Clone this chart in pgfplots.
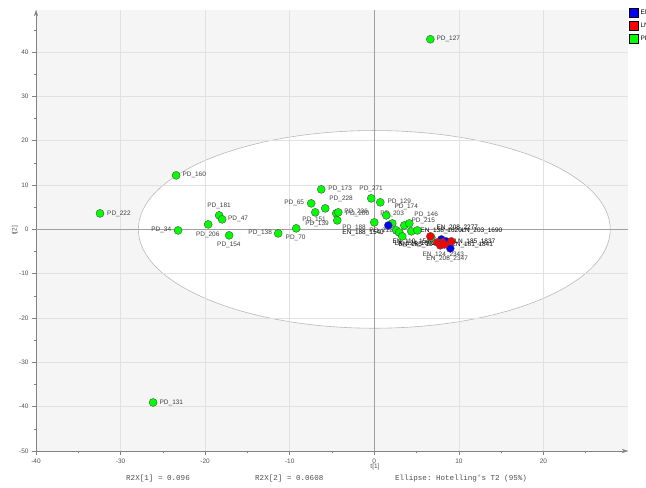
\documentclass[border=0pt]{standalone}
\usepackage{fontspec}
\setmainfont{Liberation Sans}
\setmonofont{Liberation Mono}
\usepackage{pgfplots}
\pgfplotsset{compat=1.18}
\usepackage{pgfplotstable}
\usetikzlibrary{arrows.meta}

\definecolor{ptgreen}{RGB}{0,255,0}
\definecolor{ptred}{RGB}{255,0,0}
\definecolor{ptblue}{RGB}{0,0,255}
\definecolor{plotbg}{RGB}{245,245,245}
\definecolor{gridgray}{RGB}{225,225,225}
\definecolor{axisgray}{RGB}{130,130,130}
\definecolor{zerogray}{RGB}{160,160,160}
\definecolor{ellgray}{RGB}{185,185,185}
\definecolor{tickgray}{RGB}{80,80,80}
\definecolor{labgray}{RGB}{60,60,60}

% scores t[1], t[2]
\pgfplotstableread{
x y
6.63 42.89
-23.43 12.19
-32.43 3.61
-23.20 -0.23
-18.34 3.16
-17.99 2.26
-19.64 1.13
-17.16 -1.35
-11.36 -0.90
-9.23 0.23
-26.15 -39.05
-6.27 9.03
-0.36 7.00
-7.46 5.87
-6.98 3.84
-5.80 4.74
-4.50 3.61
-4.26 3.84
-4.38 2.03
0.00 1.58
0.71 6.10
1.42 3.16
2.13 1.35
2.60 -0.23
2.96 -0.68
3.31 -1.58
3.55 0.90
4.14 1.35
4.38 -0.45
5.09 -0.23
6.75 -1.81
}\pdgroup

\pgfplotstableread{
x y
1.66 0.90
7.93 -2.26
8.99 -4.29
8.50 -2.70
}\engroup

\pgfplotstableread{
x y
6.63 -1.58
7.46 -2.93
8.05 -2.93
7.80 -3.60
9.11 -2.70
8.30 -3.40
}\lngroup

\tikzset{
  lbl/.style={font=\fontsize{6.5}{7}\selectfont, text=labgray, inner sep=0pt, anchor=west},
  dlbl/.style={lbl, text=black},
}

\begin{document}
\begin{tikzpicture}[x=1bp,y=1bp]
\begin{axis}[
  set layers,
  at={(36bp,37bp)}, anchor=south west,
  scale only axis, width=592bp, height=441bp,
  xmin=-40, xmax=30, ymin=-50, ymax=49.5,
  axis lines=left,
  axis line style={draw=axisgray, -{Stealth[length=6bp,width=4bp]}},
  xtick={-40,-30,...,20}, ytick={-50,-40,...,40},
  minor xtick={-35,-25,...,25}, minor ytick={-45,-35,...,45},
  tick align=outside,
  major tick length=4bp, minor tick length=2.5bp,
  tick style={draw=axisgray, line width=0.5bp},
  grid=major, major grid style={draw=gridgray, line width=0.6bp},
  minor grid style={draw=none},
  ticklabel style={font=\fontsize{6.5}{7}\selectfont, text=tickgray},
  /pgf/number format/assume math mode=true,
  xlabel={t[1]}, ylabel={t[2]},
  label style={font=\fontsize{6.5}{7}\selectfont, text=tickgray},
  xlabel style={at={(axis description cs:0.5726,0)}, anchor=center, yshift=-16bp},
  ylabel style={at={(axis description cs:-0.0355,0.5)}, anchor=center},
  legend style={at={(1,1)}, anchor=north west, xshift=1bp, yshift=2bp,
    draw=none, fill=none, inner sep=0pt, row sep=3bp,
    font=\fontsize{6.5}{7}\selectfont, cells={anchor=west}},
  /tikz/every even column/.append style={column sep=2bp},
  legend image code/.code={\fill[#1] (0bp,-4.5bp) rectangle (9bp,4.5bp);},
]
\begin{pgfonlayer}{axis background}
  \fill[plotbg] (rel axis cs:0,0) rectangle (rel axis cs:1,1);
  \filldraw[fill=white, draw=ellgray, line width=0.6bp] (axis cs:0,0) ellipse [x radius=27.9, y radius=22.3];
\end{pgfonlayer}
\draw[zerogray, line width=0.8bp] (axis cs:0,-50) -- (axis cs:0,49.5);
\draw[zerogray, line width=0.8bp] (axis cs:-40,0) -- (axis cs:30,0);

\addlegendimage{fill=ptblue}
\addlegendentry{EN}
\addlegendimage{fill=ptred}
\addlegendentry{LN}
\addlegendimage{fill=ptgreen}
\addlegendentry{PD}

\addplot[forget plot, only marks, mark=*, mark size=4bp,
  mark options={fill=ptgreen, draw=black!70, line width=0.4bp}] table {\pdgroup};
\addplot[forget plot, only marks, mark=*, mark size=4bp,
  mark options={fill=ptblue, draw=black!70, line width=0.4bp}] table {\engroup};
\addplot[forget plot, only marks, mark=*, mark size=4bp,
  mark options={fill=ptred, draw=black!70, line width=0.4bp}] table {\lngroup};

% point labels
\node[lbl] at (axis cs:7.34,42.9) {PD\_127};
\node[lbl] at (axis cs:-22.7,12.2) {PD\_160};
\node[lbl] at (axis cs:-31.6,3.6) {PD\_222};
\node[lbl, anchor=east] at (axis cs:-24.0,-0.2) {PD\_34};
\node[lbl] at (axis cs:-19.76,5.19) {PD\_181};
\node[lbl] at (axis cs:-17.3,2.26) {PD\_47};
\node[lbl] at (axis cs:-21.1,-1.13) {PD\_206};
\node[lbl] at (axis cs:-18.6,-3.6) {PD\_154};
\node[lbl] at (axis cs:-14.9,-0.9) {PD\_138};
\node[lbl] at (axis cs:-10.5,-2.0) {PD\_70};
\node[lbl] at (axis cs:-8.52,2.03) {PD\_151};
\node[lbl] at (axis cs:-8.17,1.13) {PD\_139};
\node[lbl] at (axis cs:-25.4,-39.05) {PD\_131};
\node[lbl] at (axis cs:-5.44,9.25) {PD\_173};
\node[lbl] at (axis cs:-1.78,9.25) {PD\_271};
\node[lbl, anchor=east] at (axis cs:-8.28,5.87) {PD\_65};
\node[lbl] at (axis cs:-5.33,6.77) {PD\_228};
\node[lbl] at (axis cs:-3.55,3.84) {PD\_236};
\node[lbl] at (axis cs:-3.40,3.40) {PD\_200};
\node[lbl] at (axis cs:-3.79,0.23) {PD\_188};
\node[lbl] at (axis cs:-0.59,-0.23) {PD\_212};
\node[lbl] at (axis cs:1.54,6.1) {PD\_129};
\node[lbl] at (axis cs:2.37,4.97) {PD\_174};
\node[lbl] at (axis cs:0.71,3.61) {PD\_203};
\node[lbl] at (axis cs:4.73,3.16) {PD\_146};
\node[lbl] at (axis cs:4.38,2.03) {PD\_215};
% overlapping EN / LN labels
\node[dlbl] at (axis cs:-3.79,-0.9) {EN\_188\_1540};
\node[dlbl] at (axis cs:5.44,-0.45) {EN\_138\_1620};
\node[dlbl] at (axis cs:10.3,-0.45) {LN\_203\_1690};
\node[dlbl] at (axis cs:7.34,0.45) {EN\_208\_2277};
\node[dlbl] at (axis cs:2.13,-2.71) {EN\_110\_1540};
\node[dlbl] at (axis cs:2.37,-3.16) {LN\_124\_1602};
\node[dlbl] at (axis cs:2.84,-3.39) {EN\_185\_1543};
\node[dlbl] at (axis cs:9.47,-2.93) {LN\_185\_1837};
\node[dlbl] at (axis cs:9.11,-3.39) {EN\_161\_1841};
\node[dlbl, text=black!75] at (axis cs:5.68,-5.64) {EN\_124\_2343};
\node[dlbl, text=black!75] at (axis cs:6.15,-6.55) {EN\_208\_2347};
\end{axis}
\node[anchor=west, inner sep=0pt, font=\ttfamily\fontsize{7.6}{8}\selectfont, text=tickgray] at (126bp,9bp) {R2X[1] = 0.096};
\node[anchor=west, inner sep=0pt, font=\ttfamily\fontsize{7.6}{8}\selectfont, text=tickgray] at (255bp,9bp) {R2X[2] = 0.0608};
\node[anchor=west, inner sep=0pt, font=\ttfamily\fontsize{7.6}{8}\selectfont, text=tickgray] at (395bp,9bp) {Ellipse: Hotelling's T2 (95\%)};
\pgfresetboundingbox
\useasboundingbox (0,0) rectangle (646bp,488bp);
\end{tikzpicture}
\end{document}
